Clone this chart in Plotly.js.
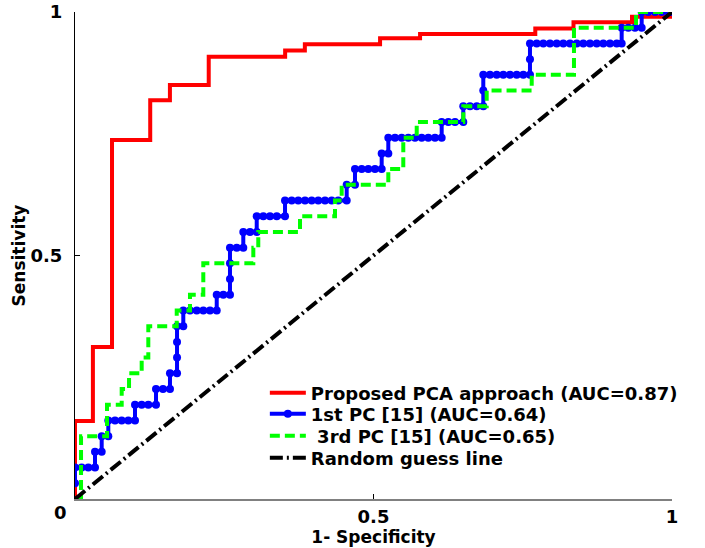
<!DOCTYPE html>
<html>
<head>
<meta charset="utf-8">
<script src="https://cdn.plot.ly/plotly-3.0.1.min.js"></script>
<style>html,body{margin:0;padding:0;background:#fff;}#chart{width:705px;height:548px;}</style>
</head>
<body>
<div id="chart"></div>
<script>
// Proposed PCA approach (step points, hv)
const redX = [0, 0, 0.030, 0.062, 0.126, 0.159, 0.224, 0.352, 0.385, 0.511, 0.578, 0.771, 0.835, 0.933, 1.0];
const redY = [0, 0.160, 0.312, 0.737, 0.819, 0.850, 0.908, 0.921, 0.934, 0.946, 0.955, 0.966, 0.979, 0.990, 0.990];

// 1st PC [15] (every ROC point)
const blueX = [0, 0, 0.0112, 0.0223, 0.0335, 0.0335, 0.0447, 0.0447, 0.0558, 0.0558,
  0.0670, 0.0782, 0.0893, 0.1005, 0.1005, 0.1117, 0.1228, 0.1357, 0.1357, 0.1474,
  0.1591, 0.1591, 0.1709, 0.1709, 0.1709, 0.1709, 0.1814, 0.1814, 0.1926, 0.2039,
  0.2149, 0.2261, 0.2374, 0.2374, 0.2484, 0.2596, 0.2596, 0.2596, 0.2596, 0.2709,
  0.2819, 0.2819, 0.2931, 0.3044, 0.3044, 0.3154, 0.3266, 0.3379, 0.3518, 0.3518,
  0.3630, 0.3740, 0.3853, 0.3965, 0.4075, 0.4188, 0.4300, 0.4410, 0.4551, 0.4551,
  0.4690, 0.4690, 0.4802, 0.4913, 0.5025, 0.5137, 0.5137, 0.5248, 0.5248, 0.5360,
  0.5472, 0.5583, 0.5695, 0.5807, 0.5918, 0.6030, 0.6142, 0.6142, 0.6253, 0.6365,
  0.6504, 0.6504, 0.6616, 0.6729, 0.6839, 0.6839, 0.6839, 0.6951, 0.7064, 0.7174,
  0.7286, 0.7399, 0.7509, 0.7621, 0.7621, 0.7621, 0.7734, 0.7844, 0.7956, 0.8069,
  0.8179, 0.8291, 0.8404, 0.8514, 0.8626, 0.8739, 0.8849, 0.8961, 0.9074, 0.9157,
  0.9157, 0.9268, 0.9380, 0.9492, 0.9492, 0.9603, 0.9715, 0.9827, 0.9938, 1.0];
const blueY = [0.0323, 0.0645, 0.0645, 0.0645, 0.0645, 0.0968, 0.0968, 0.1290, 0.1290, 0.1613,
  0.1613, 0.1613, 0.1613, 0.1613, 0.1935, 0.1935, 0.1935, 0.1935, 0.2258, 0.2258,
  0.2258, 0.2581, 0.2581, 0.2903, 0.3226, 0.3548, 0.3548, 0.3871, 0.3871, 0.3871,
  0.3871, 0.3871, 0.3871, 0.4194, 0.4194, 0.4194, 0.4516, 0.4839, 0.5161, 0.5161,
  0.5161, 0.5484, 0.5484, 0.5484, 0.5806, 0.5806, 0.5806, 0.5806, 0.5806, 0.6129,
  0.6129, 0.6129, 0.6129, 0.6129, 0.6129, 0.6129, 0.6129, 0.6129, 0.6129, 0.6452,
  0.6452, 0.6774, 0.6774, 0.6774, 0.6774, 0.6774, 0.7097, 0.7097, 0.7419, 0.7419,
  0.7419, 0.7419, 0.7419, 0.7419, 0.7419, 0.7419, 0.7419, 0.7742, 0.7742, 0.7742,
  0.7742, 0.8065, 0.8065, 0.8065, 0.8065, 0.8387, 0.8710, 0.8710, 0.8710, 0.8710,
  0.8710, 0.8710, 0.8710, 0.8710, 0.9032, 0.9355, 0.9355, 0.9355, 0.9355, 0.9355,
  0.9355, 0.9355, 0.9355, 0.9355, 0.9355, 0.9355, 0.9355, 0.9355, 0.9355, 0.9355,
  0.9677, 0.9677, 0.9677, 0.9677, 1.0, 1.0, 1.0, 1.0, 1.0, 1.0];

// 3rd PC [15] (step points, hv)
const greenX = [0, 0.0101, 0.0536, 0.0782, 0.0905, 0.1117, 0.1228, 0.1704, 0.1926, 0.2149,
  0.2987, 0.3070, 0.3769, 0.4355, 0.4467, 0.5248, 0.5499, 0.5724, 0.6504, 0.6896,
  0.7650, 0.8358, 0.9397, 1.0];
const greenY = [0, 0.1290, 0.1935, 0.2258, 0.2581, 0.2903, 0.3548, 0.3871, 0.4194, 0.4839,
  0.5161, 0.5484, 0.5806, 0.6129, 0.6452, 0.6774, 0.7419, 0.7742, 0.8065, 0.8387,
  0.8710, 0.9677, 1.0, 1.0];

// Random guess line
const diagX = [0, 1];
const diagY = [0, 1];

const seriesNames = ['Proposed PCA approach (AUC=0.87)', '1st PC [15] (AUC=0.64)', '\u00a03rd PC [15] (AUC=0.65)', 'Random guess line'];
const xTickVals = [0.5, 1];
const xTickText = ['0.5', '1'];
const yTickVals = [0.5, 1];
const yTickText = ['0.5', '1'];

const font = {family: 'DejaVu Sans', size: 18, color: '#000', weight: 'bold'};
const titleFont = {family: 'DejaVu Sans', size: 17, color: '#000', weight: 'bold'};

const traces = [
  {x: redX, y: redY, type: 'scatter', mode: 'lines', name: seriesNames[0], legend: 'legend',
   line: {color: '#ff0000', width: 4, shape: 'hv'}},
  {x: blueX, y: blueY, type: 'scatter', mode: 'lines+markers', name: seriesNames[1], legend: 'legend2',
   line: {color: '#0000ff', width: 4}, marker: {color: '#0000ff', size: 8, symbol: 'circle'}},
  {x: greenX, y: greenY, type: 'scatter', mode: 'lines', name: seriesNames[2], legend: 'legend3',
   line: {color: '#00ff00', width: 4, shape: 'hv', dash: '10px,5px'}},
  {x: diagX, y: diagY, type: 'scatter', mode: 'lines', name: seriesNames[3], legend: 'legend4',
   line: {color: '#000000', width: 4, dash: '13px,4px,2px,4px'}}
];

function legendAt(y) {
  return {x: 0.318, y: y, xanchor: 'left', yanchor: 'middle', bgcolor: 'rgba(0,0,0,0)',
          font: font, itemwidth: 36};
}

const layout = {
  width: 705, height: 548,
  margin: {l: 75, r: 33, t: 12, b: 49},
  paper_bgcolor: '#fff', plot_bgcolor: '#fff',
  showlegend: true,
  legend: legendAt(0.2177),
  legend2: legendAt(0.1745),
  legend3: legendAt(0.1294),
  legend4: legendAt(0.0842),
  xaxis: {range: [0, 1], showgrid: false, zeroline: false, showline: true,
          linecolor: '#808080', linewidth: 2, ticks: 'inside', ticklen: 5, tickcolor: '#000',
          tickvals: xTickVals, ticktext: xTickText, tickfont: font,
          title: {text: '1- Specificity', font: titleFont, standoff: 4},
          fixedrange: true},
  yaxis: {range: [0, 1], showgrid: false, zeroline: false, showline: true,
          linecolor: '#000', linewidth: 1, ticks: 'inside', ticklen: 5, tickcolor: '#000',
          tickvals: yTickVals, ticktext: yTickText, tickfont: font, ticklabelstandoff: 8,
          title: {text: 'Sensitivity', font: titleFont, standoff: 0},
          fixedrange: true},
  annotations: [{xref: 'paper', yref: 'paper', x: -0.025, y: -0.027, text: '0', showarrow: false,
                 font: font, xanchor: 'center', yanchor: 'middle'}]
};

Plotly.newPlot('chart', traces, layout, {displayModeBar: false, staticPlot: true});
</script>
</body>
</html>
